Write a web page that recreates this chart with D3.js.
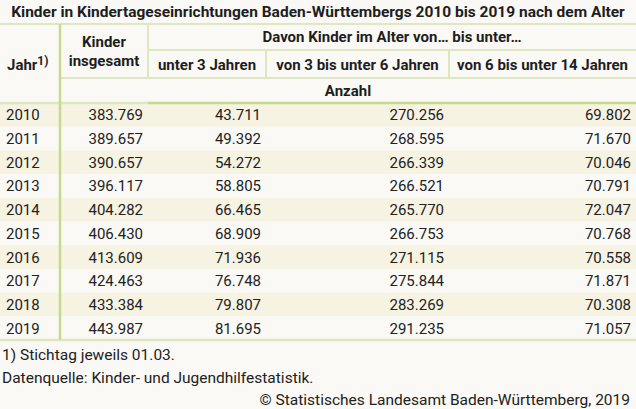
<!DOCTYPE html>
<html>
<head>
<meta charset="utf-8">
<script src="https://cdn.jsdelivr.net/npm/d3@7"></script>
<style>
  html, body { margin: 0; padding: 0; background: #faf9f5; }
  svg { display: block; font-family: Roboto, "Noto Sans", sans-serif; }
</style>
</head>
<body>
<div id="chart"></div>
<script>
var years = [2010, 2011, 2012, 2013, 2014, 2015, 2016, 2017, 2018, 2019];
var total = [383769, 389657, 390657, 396117, 404282, 406430, 413609, 424463, 433384, 443987];
var under3 = [43711, 49392, 54272, 58805, 66465, 68909, 71936, 76748, 79807, 81695];
var from3to6 = [270256, 268595, 266339, 266521, 265770, 266753, 271115, 275844, 283269, 291235];
var from6to14 = [69802, 71670, 70046, 70791, 72047, 70768, 70558, 71871, 70308, 71057];
var columns = ["Jahr", "Kinder insgesamt", "unter 3 Jahren", "von 3 bis unter 6 Jahren", "von 6 bis unter 14 Jahren"];

var title = "Kinder in Kindertageseinrichtungen Baden-Württembergs 2010 bis 2019 nach dem Alter";
var notes = ["1) Stichtag jeweils 01.03.", "Datenquelle: Kinder- und Jugendhilfestatistik."];
var source = "© Statistisches Landesamt Baden-Württemberg, 2019";

function init() {
    var w = 636;
    var h = 409;

    var de = d3.formatLocale({decimal: ",", thousands: ".", grouping: [3], currency: ["", " €"]});
    var fmt = de.format(",d");

    // column edges
    var colEdges = [0, 60, 148, 266, 449, 636];
    var x = d3.scaleOrdinal().domain(d3.range(6)).range(colEdges);

    // row bands for the body
    var y = d3.scaleBand().domain(years).range([103, 340]);

    var svg = d3.select("#chart")
        .append("svg")
        .attr("width", w)
        .attr("height", h);

    svg.append("rect").attr("width", w).attr("height", h).attr("fill", "#faf9f5");

    // title
    svg.append("text")
        .attr("x", w / 2)
        .attr("y", 17)
        .attr("text-anchor", "middle")
        .attr("font-size", 15.5)
        .attr("font-weight", "bold")
        .attr("fill", "#1e1e1e")
        .text(title);

    // striped rows
    var rows = years.map(function(d, i) {
        return {year: d, vals: [total[i], under3[i], from3to6[i], from6to14[i]], i: i};
    });

    svg.selectAll("rect.row")
        .data(rows)
        .enter()
        .append("rect")
        .attr("class", "row")
        .attr("x", 0)
        .attr("y", function(d) { return y(d.year); })
        .attr("width", w)
        .attr("height", y.bandwidth())
        .attr("fill", function(d) { return d.i % 2 == 0 ? "#f6f3e2" : "#faf9f5"; });

    // grid lines
    var light = "#dde7c0";
    var dark = "#c6d98c";
    function hline(x1, x2, yy, col, sw) {
        svg.append("line").attr("x1", x1).attr("x2", x2).attr("y1", yy).attr("y2", yy)
            .attr("stroke", col).attr("stroke-width", sw);
    }
    function vline(xx, y1, y2, col, sw) {
        svg.append("line").attr("x1", xx).attr("x2", xx).attr("y1", y1).attr("y2", y2)
            .attr("stroke", col).attr("stroke-width", sw);
    }
    hline(0, w, 24, light, 2);
    hline(x(2), w, 50, light, 2);
    hline(x(1), w, 78, light, 2);
    hline(0, x(2), 103, light, 2.5);
    hline(x(2), w, 103, dark, 2.5);
    hline(0, w, 340, light, 2.5);
    vline(x(1), 24, 340, dark, 2.5);
    vline(x(2), 24, 78, light, 2);
    vline(x(3), 50, 78, light, 2);
    vline(x(4), 50, 78, light, 2);

    // header text
    var hdr = svg.append("g")
        .attr("font-size", 15)
        .attr("font-weight", "bold")
        .attr("fill", "#1e1e1e");

    var jahr = hdr.append("text").attr("x", 7).attr("y", 70);
    jahr.append("tspan").text("Jahr");
    jahr.append("tspan").attr("font-size", 12).attr("dy", -5).text("1)");

    hdr.append("text").attr("x", (x(1) + x(2)) / 2).attr("y", 47)
        .attr("text-anchor", "middle").text("Kinder");
    hdr.append("text").attr("x", (x(1) + x(2)) / 2).attr("y", 66)
        .attr("text-anchor", "middle").text("insgesamt");

    hdr.append("text").attr("x", (x(2) + x(5)) / 2).attr("y", 42)
        .attr("text-anchor", "middle").text("Davon Kinder im Alter von… bis unter…");

    hdr.selectAll("text.sub")
        .data([2, 3, 4])
        .enter()
        .append("text")
        .attr("class", "sub")
        .attr("x", function(d) { return (x(d) + x(d + 1)) / 2; })
        .attr("y", 70)
        .attr("text-anchor", "middle")
        .text(function(d) { return columns[d]; });

    hdr.append("text").attr("x", (x(1) + x(5)) / 2).attr("y", 96)
        .attr("text-anchor", "middle").text("Anzahl");

    // body text
    var body = svg.append("g")
        .attr("font-size", 15)
        .attr("fill", "#222");

    var rowG = body.selectAll("g.r")
        .data(rows)
        .enter()
        .append("g")
        .attr("class", "r")
        .attr("transform", function(d) {
            return "translate(0," + (y(d.year) + y.bandwidth() / 2 + 5.5) + ")";
        });

    rowG.append("text")
        .attr("x", 6)
        .text(function(d) { return d.year; });

    rowG.selectAll("text.v")
        .data(function(d) { return d.vals; })
        .enter()
        .append("text")
        .attr("class", "v")
        .attr("x", function(d, i) { return x(i + 2) - 5; })
        .attr("text-anchor", "end")
        .text(function(d) { return fmt(d); });

    // footnotes
    svg.selectAll("text.note")
        .data(notes)
        .enter()
        .append("text")
        .attr("class", "note")
        .attr("x", 2)
        .attr("y", function(d, i) { return 360 + i * 23; })
        .attr("font-size", 15.5)
        .attr("fill", "#222")
        .text(function(d) { return d; });

    svg.append("text")
        .attr("x", w - 6)
        .attr("y", 405)
        .attr("text-anchor", "end")
        .attr("font-size", 15.5)
        .attr("fill", "#222")
        .text(source);
}
window.onload = init;
</script>
</body>
</html>
